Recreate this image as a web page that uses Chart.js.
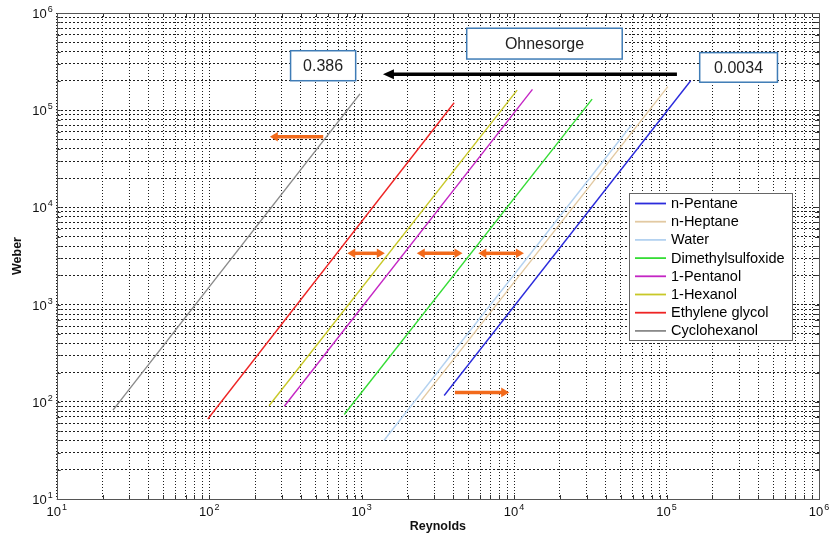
<!DOCTYPE html>
<html>
<head>
<meta charset="utf-8">
<script src="https://cdn.jsdelivr.net/npm/chart.js@4.4.1/dist/chart.umd.min.js"></script>
<style>
    body { margin: 0; background: #fff; }
</style>
</head>
<body>
<canvas id="graficoOhnesorge" width="830" height="540"></canvas>
<script>
// Valores: início e fim de cada reta (Reynolds, Weber)
const rePentano = [3480, 144000];
const wePentano = [116, 201000];
const reHeptano = [2470, 102000];
const weHeptano = [104, 175000];
const reAgua = [1400, 58900];
const weAgua = [40, 70500];
const reDmso = [769, 32500];
const weDmso = [74, 130000];
const rePentanol = [311, 13200];
const wePentanol = [90, 164000];
const reHexanol = [247, 10470];
const weHexanol = [91, 161000];
const reEtilenoGlicol = [98, 4045];
const weEtilenoGlicol = [66.5, 119400];
const reCiclohexanol = [23.4, 975];
const weCiclohexanol = [82, 147000];

const nomes = ['n-Pentane', 'n-Heptane', 'Water', 'Dimethylsulfoxide', '1-Pentanol', '1-Hexanol', 'Ethylene glycol', 'Cyclohexanol'];
const cores = ['#2b2bdc', '#e2c9a2', '#b4d2f0', '#35dc35', '#c425c4', '#c8c828', '#ee2424', '#8a8a8a'];
const series = [
    [rePentano, wePentano], [reHeptano, weHeptano], [reAgua, weAgua], [reDmso, weDmso],
    [rePentanol, wePentanol], [reHexanol, weHexanol], [reEtilenoGlicol, weEtilenoGlicol], [reCiclohexanol, weCiclohexanol]
];

// Marcas dos eixos (décadas) e expoentes
const decadas = [1e1, 1e2, 1e3, 1e4, 1e5, 1e6];
const expoentes = ['1', '2', '3', '4', '5', '6'];

// Anotações em coordenadas dos dados
const caixas = [
    { texto: '0.386', re: [342, 914], we: [409000, 201000] },
    { texto: 'Ohnesorge', re: [4890, 51200], we: [697000, 336000] },
    { texto: '0.0034', re: [165000, 534000], we: [391000, 194000] }
];
const setaPreta = { re: [117000, 1380], we: 235000 };
const setasLaranja = [
    { re: [560, 250], we: 53300, dupla: false },
    { re: [805, 1420], we: 3370, dupla: true },
    { re: [2300, 4590], we: 3370, dupla: true },
    { re: [5820, 11600], we: 3370, dupla: true },
    { re: [4090, 9290], we: 125, dupla: false }
];

// Linhas da grelha: 1..9 em cada década
const valoresGrelha = [];
decadas.forEach(function(d, i) {
    const limite = i === decadas.length - 1 ? 1 : 9;
    for (let k = 1; k <= limite; k++) valoresGrelha.push(k * d);
});

const fonte = '"Liberation Sans", Arial, sans-serif';

function desenharSeta(ctx, x1, y1, x2, y2, dupla, cor, espessura, comp, meia) {
    // seta de (x1,y1) para (x2,y2); ponta em x2
    const dir = Math.sign(x2 - x1);
    ctx.save();
    ctx.strokeStyle = cor;
    ctx.fillStyle = cor;
    ctx.lineWidth = espessura;
    ctx.beginPath();
    ctx.moveTo(dupla ? x1 + dir * (comp - 1) : x1, y1);
    ctx.lineTo(x2 - dir * (comp - 1), y2);
    ctx.stroke();
    const pontas = dupla ? [[x2, -dir], [x1, dir]] : [[x2, -dir]];
    pontas.forEach(function(p) {
        ctx.beginPath();
        ctx.moveTo(p[0], y2);
        ctx.lineTo(p[0] + p[1] * comp, y2 - meia);
        ctx.lineTo(p[0] + p[1] * comp, y2 + meia);
        ctx.closePath();
        ctx.fill();
    });
    ctx.restore();
}

const desenhos = {
    id: 'desenhos',
    afterDraw(chart) {
        const { ctx, chartArea: a, scales: { x, y } } = chart;
        ctx.save();

        // Pequenas marcas nos quatro lados
        ctx.strokeStyle = '#333';
        ctx.lineWidth = 1;
        valoresGrelha.forEach(function(v) {
            const px = Math.round(x.getPixelForValue(v)) + 0.5;
            const py = Math.round(y.getPixelForValue(v)) + 0.5;
            ctx.beginPath();
            ctx.moveTo(px, a.bottom); ctx.lineTo(px, a.bottom - 4);
            ctx.moveTo(px, a.top); ctx.lineTo(px, a.top + 4);
            ctx.moveTo(a.left, py); ctx.lineTo(a.left + 4, py);
            ctx.moveTo(a.right, py); ctx.lineTo(a.right - 4, py);
            ctx.stroke();
        });

        // Caixa do gráfico
        ctx.strokeStyle = '#555';
        ctx.strokeRect(Math.round(a.left) + 0.5, Math.round(a.top) + 0.5, Math.round(a.right - a.left), Math.round(a.bottom - a.top));

        // Rótulos das décadas: 10 com expoente
        ctx.fillStyle = '#111';
        ctx.textBaseline = 'alphabetic';
        decadas.forEach(function(d, i) {
            ctx.font = '13px ' + fonte;
            const w10 = ctx.measureText('10').width;
            ctx.font = '9px ' + fonte;
            const wExp = ctx.measureText(expoentes[i]).width;
            const total = w10 + wExp + 1;

            const px = x.getPixelForValue(d);
            ctx.textAlign = 'left';
            ctx.font = '13px ' + fonte;
            ctx.fillText('10', px - total / 2, a.bottom + 17);
            ctx.font = '9px ' + fonte;
            ctx.fillText(expoentes[i], px - total / 2 + w10 + 1, a.bottom + 11);

            const py = y.getPixelForValue(d);
            const xd = a.left - 4;
            ctx.font = '9px ' + fonte;
            ctx.fillText(expoentes[i], xd - wExp, py - 1);
            ctx.font = '13px ' + fonte;
            ctx.fillText('10', xd - wExp - 1 - w10, py + 5);
        });

        // Títulos dos eixos
        ctx.font = 'bold 12.5px ' + fonte;
        ctx.textAlign = 'center';
        ctx.textBaseline = 'middle';
        ctx.fillText('Reynolds', (a.left + a.right) / 2, a.bottom + 28);
        ctx.save();
        ctx.translate(18, (a.top + a.bottom) / 2);
        ctx.rotate(-Math.PI / 2);
        ctx.fillText('Weber', 0, 0);
        ctx.restore();

        // Legenda
        const lx = a.right - 190, ly = a.top + 180;
        ctx.fillStyle = '#fff';
        ctx.fillRect(lx + 0.5, ly + 0.5, 163, 147);
        ctx.strokeStyle = '#666';
        ctx.lineWidth = 1;
        ctx.strokeRect(lx + 0.5, ly + 0.5, 163, 147);
        ctx.font = '14.5px ' + fonte;
        ctx.textAlign = 'left';
        chart.data.datasets.forEach(function(ds, i) {
            const yy = ly + 10.5 + i * 18.2;
            ctx.strokeStyle = ds.borderColor;
            ctx.lineWidth = 1.8;
            ctx.beginPath();
            ctx.moveTo(lx + 6, yy);
            ctx.lineTo(lx + 37, yy);
            ctx.stroke();
            ctx.fillStyle = '#000';
            ctx.fillText(ds.label, lx + 42, yy + 0.5);
        });

        // Caixas de texto
        caixas.forEach(function(c) {
            const x1 = x.getPixelForValue(c.re[0]), x2 = x.getPixelForValue(c.re[1]);
            const y1 = y.getPixelForValue(c.we[0]), y2 = y.getPixelForValue(c.we[1]);
            ctx.fillStyle = '#fff';
            ctx.fillRect(x1, y1, x2 - x1, y2 - y1);
            ctx.strokeStyle = '#3f7cb6';
            ctx.lineWidth = 1.5;
            ctx.strokeRect(x1, y1, x2 - x1, y2 - y1);
            ctx.fillStyle = '#222';
            ctx.font = '16px ' + fonte;
            ctx.textAlign = 'center';
            ctx.fillText(c.texto, (x1 + x2) / 2, (y1 + y2) / 2 + 1);
        });

        // Setas
        desenharSeta(ctx, x.getPixelForValue(setaPreta.re[0]), y.getPixelForValue(setaPreta.we),
            x.getPixelForValue(setaPreta.re[1]), y.getPixelForValue(setaPreta.we), false, '#000', 3.5, 11, 5);
        setasLaranja.forEach(function(s) {
            const py = y.getPixelForValue(s.we);
            desenharSeta(ctx, x.getPixelForValue(s.re[0]), py, x.getPixelForValue(s.re[1]), py, s.dupla, '#f26a1b', 3.5, 8, 4.8);
        });

        ctx.restore();
    }
};

function eixo(posicao, tracejado) {
    return {
        type: 'logarithmic',
        position: posicao,
        min: 10,
        max: 1e6,
        afterBuildTicks: function(scale) {
            scale.ticks = valoresGrelha.map(v => ({ value: v, major: decadas.includes(v) }));
        },
        ticks: { display: false, autoSkip: false },
        grid: { color: '#1e1e1e', lineWidth: 1, drawTicks: false },
        border: { display: false, dash: tracejado }
    };
}

new Chart(document.getElementById('graficoOhnesorge'), {
    type: 'scatter',
    data: {
        datasets: series.map(function(s, i) {
            return {
                label: nomes[i],
                data: s[0].map((re, k) => ({ x: re, y: s[1][k] })),
                borderColor: cores[i],
                backgroundColor: cores[i],
                showLine: true,
                borderWidth: 1.4,
                pointRadius: 0
            };
        })
    },
    plugins: [desenhos],
    options: {
        responsive: false,
        animation: false,
        layout: { padding: { left: 56.7, right: 11, top: 13, bottom: 41 } },
        scales: {
            x: eixo('bottom', [1, 2]),
            y: eixo('left', [2, 2])
        },
        plugins: { legend: { display: false }, tooltip: { enabled: false } }
    }
});
</script>
</body>
</html>
